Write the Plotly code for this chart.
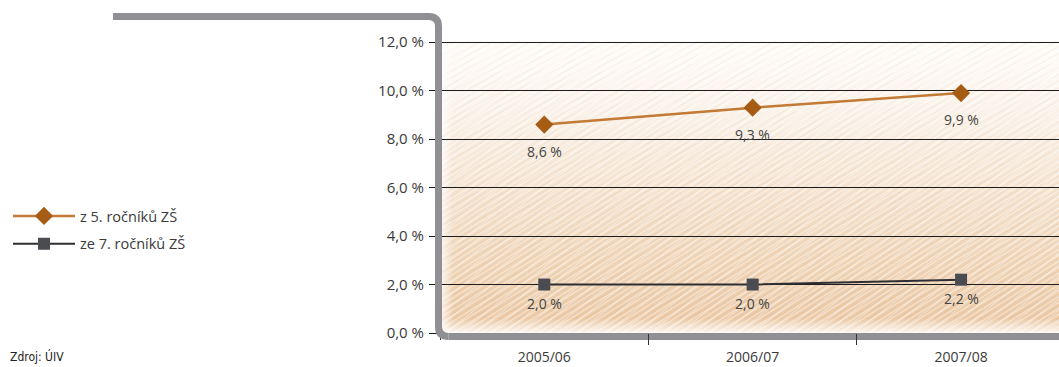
import base64
import plotly.graph_objects as go

# --- data -----------------------------------------------------------------
categories = ["2005/06", "2006/07", "2007/08"]
grade5_share = [8.6, 9.3, 9.9]
grade7_share = [2.0, 2.0, 2.2]
series_names = ["z 5. ročníků ZŠ", "ze 7. ročníků ZŠ"]
y_tick_values = [0, 2, 4, 6, 8, 10, 12]
source_note = "Zdroj: ÚIV"


def cz_pct(v):
    return f"{v:.1f}".replace(".", ",") + " %"


# --- page geometry (pixels) -----------------------------------------------
W, H = 1059, 367
M_L, M_R, M_T, M_B = 438, 0, 41, 34
PLOT_W = W - M_L - M_R
PLOT_H = H - M_T - M_B
Y_RANGE = [0, 12.05]


def px_x(x):
    return (x - M_L) / PLOT_W


def px_y(y):
    return (H - M_B - y) / PLOT_H


TEXT = "#3a3a3a"
FONT = "Open Sans, Noto Sans, sans-serif"
ORANGE_LINE = "#c27a35"
ORANGE_MARK = "#a65c14"
GREY_LINE = "#2f2f33"
GREY_MARK = "#4b4b52"
FRAME = "#8f8f94"

# --- sketched beige background for the plot area --------------------------
svg = f"""<svg xmlns='http://www.w3.org/2000/svg' width='{PLOT_W}' height='{PLOT_H}' viewBox='0 0 {PLOT_W} {PLOT_H}' preserveAspectRatio='none'>
<defs>
<linearGradient id='tone' x1='0' y1='0' x2='0' y2='1'>
<stop offset='0' stop-color='#fefcfa'/>
<stop offset='0.2' stop-color='#fbf4ec'/>
<stop offset='0.5' stop-color='#f4e2cf'/>
<stop offset='0.75' stop-color='#eed3b5'/>
<stop offset='1' stop-color='#eac59f'/>
</linearGradient>
<linearGradient id='leftfade' x1='0' y1='0' x2='1' y2='0'>
<stop offset='0' stop-color='#ffffff' stop-opacity='0.9'/>
<stop offset='0.025' stop-color='#ffffff' stop-opacity='0'/>
</linearGradient>
<linearGradient id='bottomfade' x1='0' y1='0' x2='0' y2='1'>
<stop offset='0.95' stop-color='#ffffff' stop-opacity='0'/>
<stop offset='1' stop-color='#ffffff' stop-opacity='0.85'/>
</linearGradient>
<pattern id='hatchA' width='7' height='5' patternUnits='userSpaceOnUse' patternTransform='rotate(-32)'>
<rect x='0' y='0' width='7' height='1.4' fill='#ffffff' fill-opacity='0.5'/>
</pattern>
<pattern id='hatchB' width='11' height='9' patternUnits='userSpaceOnUse' patternTransform='rotate(-38)'>
<rect x='0' y='0' width='11' height='1.2' fill='#ffffff' fill-opacity='0.4'/>
</pattern>
<pattern id='hatchC' width='13' height='6' patternUnits='userSpaceOnUse' patternTransform='rotate(-28)'>
<rect x='0' y='2' width='13' height='1' fill='#dcab80' fill-opacity='0.15'/>
</pattern>
</defs>
<rect width='100%' height='100%' fill='url(#tone)'/>
<rect width='100%' height='100%' fill='url(#hatchC)'/>
<rect width='100%' height='100%' fill='url(#hatchA)'/>
<rect width='100%' height='100%' fill='url(#hatchB)'/>
<rect width='100%' height='100%' fill='url(#leftfade)'/>
<rect width='100%' height='100%' fill='url(#bottomfade)'/>
</svg>"""
bg_src = "data:image/svg+xml;base64," + base64.b64encode(svg.encode("utf-8")).decode("ascii")

fig = go.Figure()

fig.add_trace(go.Scatter(
    x=categories, y=grade5_share, name=series_names[0], legendgroup="g5",
    mode="lines+markers",
    line=dict(color=ORANGE_LINE, width=2.5),
    marker=dict(symbol="diamond", size=14, color=ORANGE_MARK),
    hoverinfo="skip",
))
fig.add_trace(go.Scatter(
    x=categories, y=grade7_share, name=series_names[1], legendgroup="g7",
    mode="lines+markers",
    line=dict(color=GREY_LINE, width=2),
    marker=dict(symbol="square", size=12, color=GREY_MARK),
    hoverinfo="skip",
))

# value labels beneath every point
annotations = []
for series, shift in ((grade5_share, -26.5), (grade7_share, -19)):
    for cat, val in zip(categories, series):
        annotations.append(dict(
            x=cat, y=val, xref="x", yref="y", text=cz_pct(val),
            showarrow=False, yshift=shift,
            font=dict(family=FONT, size=14, color="#454545"),
        ))

annotations.append(dict(
    x=px_x(8), y=px_y(357), xref="paper", yref="paper", text=source_note,
    xanchor="left", yanchor="middle", showarrow=False,
    font=dict(family="Liberation Sans Narrow, DejaVu Sans Condensed, sans-serif",
              size=12, color="#222222"),
))

# grey frame: top bar, rounded corner, left axis and bottom bar
r_x, r_y = 10 / PLOT_W, 10 / PLOT_H
top_y = px_y(16.5)
left_x = px_x(438.5)
bot_y = px_y(336.5)
frame_path = (
    f"M {px_x(113)},{top_y} L {left_x - r_x},{top_y} "
    f"Q {left_x},{top_y} {left_x},{top_y - r_y} "
    f"L {left_x},{bot_y + r_y} Q {left_x},{bot_y} {left_x + r_x},{bot_y}"
)
shapes = [
    # white patch hiding the boundary tick that falls on the frame corner
    dict(type="rect", xref="paper", yref="paper",
         x0=px_x(436), x1=px_x(445), y0=px_y(347), y1=px_y(340),
         fillcolor="#ffffff", line=dict(width=0), layer="above"),
    dict(type="path", path=frame_path, xref="paper", yref="paper",
         line=dict(color=FRAME, width=7), layer="above"),
    dict(type="line", xref="paper", yref="paper",
         x0=left_x + r_x, x1=1.02, y0=bot_y, y1=bot_y,
         line=dict(color=FRAME, width=7), layer="below"),
]

fig.update_layout(
    width=W, height=H,
    margin=dict(l=M_L, r=M_R, t=M_T, b=M_B, autoexpand=False),
    paper_bgcolor="#ffffff",
    plot_bgcolor="rgba(0,0,0,0)",
    font=dict(family=FONT, color=TEXT),
    showlegend=True,
    legend=dict(
        x=px_x(8), xanchor="left", y=px_y(200), yanchor="top",
        font=dict(family=FONT, size=14.5, color=TEXT),
        itemwidth=62, tracegroupgap=6,
        bgcolor="rgba(0,0,0,0)",
    ),
    images=[dict(
        source=bg_src, xref="paper", yref="paper",
        x=0, y=1, sizex=1, sizey=1,
        xanchor="left", yanchor="top", sizing="stretch", layer="below",
    )],
    shapes=shapes,
    annotations=annotations,
    xaxis=dict(
        type="category", categoryorder="array", categoryarray=categories,
        range=[-0.51, 2.47], tickson="boundaries",
        ticks="outside", ticklen=11, tickwidth=1, tickcolor="#333333",
        ticklabelstandoff=14,
        showgrid=False, zeroline=False, showline=False,
        tickfont=dict(family=FONT, size=14, color=TEXT),
        fixedrange=True,
    ),
    yaxis=dict(
        range=Y_RANGE, tickmode="array", tickvals=y_tick_values,
        ticktext=[cz_pct(v) for v in y_tick_values],
        showgrid=True, gridcolor="#1c1c1c", gridwidth=1,
        ticks="outside", ticklen=8, tickwidth=1, tickcolor="#1c1c1c",
        ticklabelstandoff=2,
        zeroline=False, showline=False,
        tickfont=dict(family=FONT, size=15, color=TEXT),
        fixedrange=True,
    ),
)

fig.write_html("out.html")
